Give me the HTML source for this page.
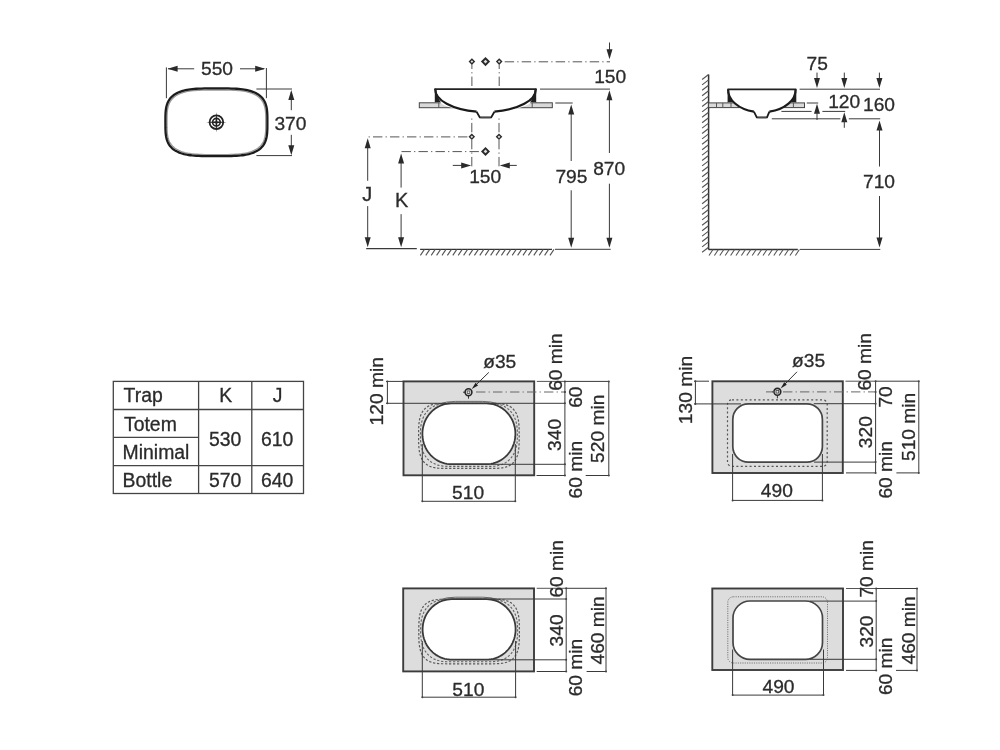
<!DOCTYPE html>
<html><head><meta charset="utf-8"><style>
html,body{margin:0;padding:0;background:#fff;width:1000px;height:750px;overflow:hidden;}
svg{display:block;will-change:transform;}
text{font-family:"Liberation Sans",sans-serif;stroke:#2b2b2b;stroke-width:0.3px;}
</style></head><body>
<svg width="1000" height="750" viewBox="0 0 1000 750" font-family="Liberation Sans, sans-serif">
<rect width="1000" height="750" fill="#fff"/>
<path d="M265.80,122.30 L265.78,127.38 L265.71,129.84 L265.60,131.80 L265.45,133.49 L265.26,134.99 L265.02,136.37 L264.73,137.63 L264.40,138.81 L264.03,139.92 L263.61,140.96 L263.15,141.94 L262.65,142.87 L262.10,143.75 L261.50,144.59 L260.86,145.39 L260.17,146.14 L259.43,146.86 L258.64,147.54 L257.81,148.19 L256.92,148.80 L255.99,149.37 L255.00,149.92 L253.96,150.43 L252.86,150.92 L251.71,151.37 L250.49,151.79 L249.21,152.18 L247.86,152.54 L246.44,152.87 L244.93,153.17 L243.34,153.44 L241.65,153.69 L239.85,153.90 L237.91,154.09 L235.82,154.24 L233.51,154.37 L230.93,154.47 L227.94,154.54 L224.17,154.59 L216.40,154.60 L208.63,154.59 L204.86,154.54 L201.87,154.47 L199.29,154.37 L196.98,154.24 L194.89,154.09 L192.95,153.90 L191.15,153.69 L189.46,153.44 L187.87,153.17 L186.36,152.87 L184.94,152.54 L183.59,152.18 L182.31,151.79 L181.09,151.37 L179.94,150.92 L178.84,150.43 L177.80,149.92 L176.81,149.37 L175.88,148.80 L174.99,148.19 L174.16,147.54 L173.37,146.86 L172.63,146.14 L171.94,145.39 L171.30,144.59 L170.70,143.75 L170.15,142.87 L169.65,141.94 L169.19,140.96 L168.77,139.92 L168.40,138.81 L168.07,137.63 L167.78,136.37 L167.54,134.99 L167.35,133.49 L167.20,131.80 L167.09,129.84 L167.02,127.38 L167.00,122.30 L167.02,117.22 L167.09,114.76 L167.20,112.80 L167.35,111.11 L167.54,109.61 L167.78,108.23 L168.07,106.97 L168.40,105.79 L168.77,104.68 L169.19,103.64 L169.65,102.66 L170.15,101.73 L170.70,100.85 L171.30,100.01 L171.94,99.21 L172.63,98.46 L173.37,97.74 L174.16,97.06 L174.99,96.41 L175.88,95.80 L176.81,95.23 L177.80,94.68 L178.84,94.17 L179.94,93.68 L181.09,93.23 L182.31,92.81 L183.59,92.42 L184.94,92.06 L186.36,91.73 L187.87,91.43 L189.46,91.16 L191.15,90.91 L192.95,90.70 L194.89,90.51 L196.98,90.36 L199.29,90.23 L201.87,90.13 L204.86,90.06 L208.63,90.01 L216.40,90.00 L224.17,90.01 L227.94,90.06 L230.93,90.13 L233.51,90.23 L235.82,90.36 L237.91,90.51 L239.85,90.70 L241.65,90.91 L243.34,91.16 L244.93,91.43 L246.44,91.73 L247.86,92.06 L249.21,92.42 L250.49,92.81 L251.71,93.23 L252.86,93.68 L253.96,94.17 L255.00,94.68 L255.99,95.23 L256.92,95.80 L257.81,96.41 L258.64,97.06 L259.43,97.74 L260.17,98.46 L260.86,99.21 L261.50,100.01 L262.10,100.85 L262.65,101.73 L263.15,102.66 L263.61,103.64 L264.03,104.68 L264.40,105.79 L264.73,106.97 L265.02,108.23 L265.26,109.61 L265.45,111.11 L265.60,112.80 L265.71,114.76 L265.78,117.22 Z" fill="none" stroke="#999" stroke-width="1.3"/>
<path d="M267.40,122.30 L267.38,127.63 L267.31,130.22 L267.20,132.27 L267.04,134.04 L266.84,135.62 L266.59,137.06 L266.30,138.39 L265.96,139.63 L265.57,140.79 L265.14,141.88 L264.67,142.91 L264.15,143.89 L263.58,144.81 L262.96,145.69 L262.30,146.53 L261.58,147.32 L260.82,148.08 L260.01,148.79 L259.15,149.47 L258.24,150.11 L257.27,150.72 L256.25,151.29 L255.18,151.83 L254.04,152.33 L252.85,152.81 L251.59,153.25 L250.27,153.66 L248.88,154.04 L247.41,154.38 L245.86,154.70 L244.21,154.99 L242.47,155.24 L240.61,155.47 L238.61,155.66 L236.44,155.83 L234.07,155.96 L231.41,156.07 L228.31,156.14 L224.42,156.19 L216.40,156.20 L208.38,156.19 L204.49,156.14 L201.39,156.07 L198.73,155.96 L196.36,155.83 L194.19,155.66 L192.19,155.47 L190.33,155.24 L188.59,154.99 L186.94,154.70 L185.39,154.38 L183.92,154.04 L182.53,153.66 L181.21,153.25 L179.95,152.81 L178.76,152.33 L177.62,151.83 L176.55,151.29 L175.53,150.72 L174.56,150.11 L173.65,149.47 L172.79,148.79 L171.98,148.08 L171.22,147.32 L170.50,146.53 L169.84,145.69 L169.22,144.81 L168.65,143.89 L168.13,142.91 L167.66,141.88 L167.23,140.79 L166.84,139.63 L166.50,138.39 L166.21,137.06 L165.96,135.62 L165.76,134.04 L165.60,132.27 L165.49,130.22 L165.42,127.63 L165.40,122.30 L165.42,116.97 L165.49,114.38 L165.60,112.33 L165.76,110.56 L165.96,108.98 L166.21,107.54 L166.50,106.21 L166.84,104.97 L167.23,103.81 L167.66,102.72 L168.13,101.69 L168.65,100.71 L169.22,99.79 L169.84,98.91 L170.50,98.07 L171.22,97.28 L171.98,96.52 L172.79,95.81 L173.65,95.13 L174.56,94.49 L175.53,93.88 L176.55,93.31 L177.62,92.77 L178.76,92.27 L179.95,91.79 L181.21,91.35 L182.53,90.94 L183.92,90.56 L185.39,90.22 L186.94,89.90 L188.59,89.61 L190.33,89.36 L192.19,89.13 L194.19,88.94 L196.36,88.77 L198.73,88.64 L201.39,88.53 L204.49,88.46 L208.38,88.41 L216.40,88.40 L224.42,88.41 L228.31,88.46 L231.41,88.53 L234.07,88.64 L236.44,88.77 L238.61,88.94 L240.61,89.13 L242.47,89.36 L244.21,89.61 L245.86,89.90 L247.41,90.22 L248.88,90.56 L250.27,90.94 L251.59,91.35 L252.85,91.79 L254.04,92.27 L255.18,92.77 L256.25,93.31 L257.27,93.88 L258.24,94.49 L259.15,95.13 L260.01,95.81 L260.82,96.52 L261.58,97.28 L262.30,98.07 L262.96,98.91 L263.58,99.79 L264.15,100.71 L264.67,101.69 L265.14,102.72 L265.57,103.81 L265.96,104.97 L266.30,106.21 L266.59,107.54 L266.84,108.98 L267.04,110.56 L267.20,112.33 L267.31,114.38 L267.38,116.97 Z" fill="none" stroke="#1c1c1c" stroke-width="2.3"/>
<circle cx="216.4" cy="122.2" r="6.8" fill="none" stroke="#222" stroke-width="1.8"/>
<circle cx="216.4" cy="122.2" r="3.8" fill="none" stroke="#222" stroke-width="1.6"/>
<polygon points="206.2,122.2 216.4,121.2 226.6,122.2 216.4,123.2" fill="#222"/>
<polygon points="216.4,112.0 217.4,122.2 216.4,132.4 215.4,122.2" fill="#222"/>
<line x1="166.4" y1="67.4" x2="166.4" y2="98.2" stroke="#3a3a3a" stroke-width="1.0" />
<line x1="266.4" y1="68.0" x2="266.4" y2="98.2" stroke="#3a3a3a" stroke-width="1.0" />
<line x1="168" y1="68.8" x2="194.2" y2="68.8" stroke="#3a3a3a" stroke-width="1.0" />
<polygon points="167.60,68.80 177.60,65.80 177.60,71.80" fill="#2a2a2a"/>
<line x1="240" y1="68.8" x2="264" y2="68.8" stroke="#3a3a3a" stroke-width="1.0" />
<polygon points="265.20,68.80 255.20,65.80 255.20,71.80" fill="#2a2a2a"/>
<text x="201.0" y="74.9" font-size="19.2" text-anchor="start" fill="#2b2b2b">550</text>
<line x1="256.4" y1="89.0" x2="292.0" y2="89.0" stroke="#3a3a3a" stroke-width="1.0" />
<line x1="256.4" y1="155.6" x2="292.0" y2="155.6" stroke="#3a3a3a" stroke-width="1.0" />
<line x1="291.3" y1="92" x2="291.3" y2="110.2" stroke="#3a3a3a" stroke-width="1.0" />
<polygon points="291.30,90.00 288.30,100.00 294.30,100.00" fill="#2a2a2a"/>
<line x1="291.3" y1="134.8" x2="291.3" y2="152" stroke="#3a3a3a" stroke-width="1.0" />
<polygon points="291.30,155.20 288.30,145.20 294.30,145.20" fill="#2a2a2a"/>
<text x="274.4" y="129.6" font-size="19.2" text-anchor="start" fill="#2b2b2b">370</text>
<rect x="419.3" y="102.8" width="133" height="4.9" fill="#d9d9d9" stroke="#444" stroke-width="1"/>
<line x1="438.8" y1="102.8" x2="438.8" y2="107.7" stroke="#555" stroke-width="1.0" />
<line x1="532.2" y1="102.8" x2="532.2" y2="107.7" stroke="#555" stroke-width="1.0" />
<path d="M435.2,89.1 L535.8,89.1 L535.8,102.4 L532,102.4 A50.5,22.7 0 0 1 494.5,111.6 L491.5,117.6 L479.6,117.6 L476.6,111.6 A50.5,22.7 0 0 1 439,102.4 L435.2,102.4 Z" fill="#fff" stroke="none"/>
<path d="M435.2,89.1 A50.4,22.7 0 0 0 476.6,111.7" fill="none" stroke="#1a1a1a" stroke-width="2.2"/>
<path d="M494.4,111.7 A50.4,22.7 0 0 0 535.8,89.1" fill="none" stroke="#1a1a1a" stroke-width="2.2"/>
<path d="M476.6,111.7 L479.8,117.4 L491.2,117.4 L494.4,111.7" fill="none" stroke="#1a1a1a" stroke-width="1.8"/>
<line x1="480.5" y1="117.9" x2="490.5" y2="117.9" stroke="#666" stroke-width="1.0" />
<line x1="434.4" y1="89.1" x2="536.6" y2="89.1" stroke="#222" stroke-width="1.6" />
<path d="M434.8,88.5 L434.8,102.6 L441,102.6 C438.5,99 436.6,94 436.2,89 Z" fill="#1f1f1f"/>
<path d="M536.2,88.5 L536.2,102.6 L530,102.6 C532.5,99 534.4,94 534.8,89 Z" fill="#1f1f1f"/>
<line x1="540.0" y1="89.1" x2="610.0" y2="89.1" stroke="#3a3a3a" stroke-width="1.0" />
<line x1="555.3" y1="103.0" x2="572.7" y2="103.0" stroke="#3a3a3a" stroke-width="1.0" />
<polygon points="471.9,58.300000000000004 475.2,61.6 471.9,64.9 468.59999999999997,61.6" fill="#2a2a2a"/>
<polygon points="471.9,60.214 473.286,61.6 471.9,62.986000000000004 470.51399999999995,61.6" fill="#ddd"/>
<polygon points="485.5,57.0 490.1,61.6 485.5,66.2 480.9,61.6" fill="#2a2a2a"/>
<polygon points="485.5,59.668 487.432,61.6 485.5,63.532000000000004 483.568,61.6" fill="#ddd"/>
<polygon points="499.2,58.300000000000004 502.5,61.6 499.2,64.9 495.9,61.6" fill="#2a2a2a"/>
<polygon points="499.2,60.214 500.586,61.6 499.2,62.986000000000004 497.81399999999996,61.6" fill="#ddd"/>
<line x1="471.9" y1="86.0" x2="471.9" y2="64.5" stroke="#555" stroke-width="1.0" stroke-dasharray="9.4 3.2 1.2 3.2"/>
<line x1="499.2" y1="86.0" x2="499.2" y2="64.5" stroke="#555" stroke-width="1.0" stroke-dasharray="9.4 3.2 1.2 3.2"/>
<line x1="504.7" y1="61.8" x2="610" y2="61.8" stroke="#555" stroke-width="1.0" stroke-dasharray="9.4 3.2 1.2 3.2" stroke-dashoffset="0"/>
<line x1="609.5" y1="42.5" x2="609.5" y2="50" stroke="#3a3a3a" stroke-width="1.0" />
<polygon points="609.50,59.20 606.50,49.20 612.50,49.20" fill="#2a2a2a"/>
<text x="594.2" y="83.0" font-size="19.2" text-anchor="start" fill="#2b2b2b">150</text>
<line x1="609.4" y1="99" x2="609.4" y2="153" stroke="#3a3a3a" stroke-width="1.0" />
<polygon points="609.40,90.30 606.40,100.30 612.40,100.30" fill="#2a2a2a"/>
<line x1="609.4" y1="183.7" x2="609.4" y2="240" stroke="#3a3a3a" stroke-width="1.0" />
<polygon points="609.40,247.80 606.40,237.80 612.40,237.80" fill="#2a2a2a"/>
<text x="593.2" y="175.0" font-size="19.2" text-anchor="start" fill="#2b2b2b">870</text>
<line x1="571.2" y1="113" x2="571.2" y2="161" stroke="#3a3a3a" stroke-width="1.0" />
<polygon points="571.20,104.40 568.20,114.40 574.20,114.40" fill="#2a2a2a"/>
<line x1="571.2" y1="190.3" x2="571.2" y2="240" stroke="#3a3a3a" stroke-width="1.0" />
<polygon points="571.20,247.80 568.20,237.80 574.20,237.80" fill="#2a2a2a"/>
<text x="555.4" y="183.0" font-size="19.2" text-anchor="start" fill="#2b2b2b">795</text>
<line x1="471.8" y1="166.3" x2="471.8" y2="117.8" stroke="#555" stroke-width="1.0" stroke-dasharray="9.4 3.2 1.2 3.2"/>
<line x1="499.0" y1="166.3" x2="499.0" y2="117.8" stroke="#555" stroke-width="1.0" stroke-dasharray="9.4 3.2 1.2 3.2"/>
<polygon points="471.8,133.5 475.1,136.8 471.8,140.10000000000002 468.5,136.8" fill="#2a2a2a"/>
<polygon points="471.8,135.41400000000002 473.18600000000004,136.8 471.8,138.186 470.414,136.8" fill="#ddd"/>
<polygon points="499.0,133.5 502.3,136.8 499.0,140.10000000000002 495.7,136.8" fill="#2a2a2a"/>
<polygon points="499.0,135.41400000000002 500.386,136.8 499.0,138.186 497.614,136.8" fill="#ddd"/>
<polygon points="485.5,146.9 490.0,151.4 485.5,155.9 481.0,151.4" fill="#2a2a2a"/>
<polygon points="485.5,149.51000000000002 487.39,151.4 485.5,153.29 483.61,151.4" fill="#ddd"/>
<line x1="368.6" y1="136.9" x2="468.5" y2="136.9" stroke="#555" stroke-width="1.0" stroke-dasharray="9.4 3.2 1.2 3.2" stroke-dashoffset="12.6"/>
<line x1="401.5" y1="151.6" x2="481.5" y2="151.6" stroke="#555" stroke-width="1.0" stroke-dasharray="9.4 3.2 1.2 3.2" stroke-dashoffset="0"/>
<line x1="452.8" y1="165.4" x2="462" y2="165.4" stroke="#3a3a3a" stroke-width="1.0" />
<polygon points="471.20,165.40 461.20,162.40 461.20,168.40" fill="#2a2a2a"/>
<line x1="509" y1="165.4" x2="516.8" y2="165.4" stroke="#3a3a3a" stroke-width="1.0" />
<polygon points="499.80,165.40 509.80,162.40 509.80,168.40" fill="#2a2a2a"/>
<text x="469.2" y="183.0" font-size="19.2" text-anchor="start" fill="#2b2b2b">150</text>
<line x1="367.7" y1="147" x2="367.7" y2="180.8" stroke="#3a3a3a" stroke-width="1.0" />
<polygon points="367.70,138.20 364.70,148.20 370.70,148.20" fill="#2a2a2a"/>
<line x1="367.7" y1="206.1" x2="367.7" y2="240" stroke="#3a3a3a" stroke-width="1.0" />
<polygon points="367.70,247.20 364.70,237.20 370.70,237.20" fill="#2a2a2a"/>
<text x="362.3" y="200.6" font-size="19.9" text-anchor="start" fill="#2b2b2b">J</text>
<line x1="401.1" y1="162" x2="401.1" y2="187.6" stroke="#3a3a3a" stroke-width="1.0" />
<polygon points="401.10,153.40 398.10,163.40 404.10,163.40" fill="#2a2a2a"/>
<line x1="401.1" y1="214.1" x2="401.1" y2="240" stroke="#3a3a3a" stroke-width="1.0" />
<polygon points="401.10,247.20 398.10,237.20 404.10,237.20" fill="#2a2a2a"/>
<text x="394.9" y="207.4" font-size="19.9" text-anchor="start" fill="#2b2b2b">K</text>
<line x1="366.2" y1="248.6" x2="416.8" y2="248.6" stroke="#3a3a3a" stroke-width="1.2" />
<line x1="420.1" y1="249.4" x2="552.0" y2="249.4" stroke="#333" stroke-width="1.4" />
<path d="M420.40,255.4 L424.40,249.4 M425.80,255.4 L429.80,249.4 M431.20,255.4 L435.20,249.4 M436.60,255.4 L440.60,249.4 M442.00,255.4 L446.00,249.4 M447.40,255.4 L451.40,249.4 M452.80,255.4 L456.80,249.4 M458.20,255.4 L462.20,249.4 M463.60,255.4 L467.60,249.4 M469.00,255.4 L473.00,249.4 M474.40,255.4 L478.40,249.4 M479.80,255.4 L483.80,249.4 M485.20,255.4 L489.20,249.4 M490.60,255.4 L494.60,249.4 M496.00,255.4 L500.00,249.4 M501.40,255.4 L505.40,249.4 M506.80,255.4 L510.80,249.4 M512.20,255.4 L516.20,249.4 M517.60,255.4 L521.60,249.4 M523.00,255.4 L527.00,249.4 M528.40,255.4 L532.40,249.4 M533.80,255.4 L537.80,249.4 M539.20,255.4 L543.20,249.4 M544.60,255.4 L548.60,249.4 M550.00,255.4 L554.00,249.4" stroke="#555" stroke-width="1.1" fill="none"/>
<line x1="555.0" y1="249.3" x2="610.7" y2="249.3" stroke="#3a3a3a" stroke-width="1.0" />
<line x1="708.6" y1="74.5" x2="708.6" y2="249.6" stroke="#333" stroke-width="1.5" />
<path d="M702.10,79.50 L708.60,74.50 M702.10,84.90 L708.60,79.90 M702.10,90.30 L708.60,85.30 M702.10,95.70 L708.60,90.70 M702.10,101.10 L708.60,96.10 M702.10,106.50 L708.60,101.50 M702.10,111.90 L708.60,106.90 M702.10,117.30 L708.60,112.30 M702.10,122.70 L708.60,117.70 M702.10,128.10 L708.60,123.10 M702.10,133.50 L708.60,128.50 M702.10,138.90 L708.60,133.90 M702.10,144.30 L708.60,139.30 M702.10,149.70 L708.60,144.70 M702.10,155.10 L708.60,150.10 M702.10,160.50 L708.60,155.50 M702.10,165.90 L708.60,160.90 M702.10,171.30 L708.60,166.30 M702.10,176.70 L708.60,171.70 M702.10,182.10 L708.60,177.10 M702.10,187.50 L708.60,182.50 M702.10,192.90 L708.60,187.90 M702.10,198.30 L708.60,193.30 M702.10,203.70 L708.60,198.70 M702.10,209.10 L708.60,204.10 M702.10,214.50 L708.60,209.50 M702.10,219.90 L708.60,214.90 M702.10,225.30 L708.60,220.30 M702.10,230.70 L708.60,225.70 M702.10,236.10 L708.60,231.10 M702.10,241.50 L708.60,236.50 M702.10,246.90 L708.60,241.90 M702.10,252.30 L708.60,247.30" stroke="#555" stroke-width="1.1" fill="none"/>
<line x1="708.6" y1="249.5" x2="797.8" y2="249.5" stroke="#333" stroke-width="1.4" />
<path d="M709.00,255.5 L713.00,249.5 M714.40,255.5 L718.40,249.5 M719.80,255.5 L723.80,249.5 M725.20,255.5 L729.20,249.5 M730.60,255.5 L734.60,249.5 M736.00,255.5 L740.00,249.5 M741.40,255.5 L745.40,249.5 M746.80,255.5 L750.80,249.5 M752.20,255.5 L756.20,249.5 M757.60,255.5 L761.60,249.5 M763.00,255.5 L767.00,249.5 M768.40,255.5 L772.40,249.5 M773.80,255.5 L777.80,249.5 M779.20,255.5 L783.20,249.5 M784.60,255.5 L788.60,249.5 M790.00,255.5 L794.00,249.5 M795.40,255.5 L799.40,249.5" stroke="#555" stroke-width="1.1" fill="none"/>
<rect x="708.6" y="102.9" width="95.9" height="4.7" fill="#d9d9d9" stroke="#444" stroke-width="1"/>
<line x1="716.5" y1="102.9" x2="716.5" y2="107.6" stroke="#555" stroke-width="1.0" />
<line x1="722.8" y1="102.9" x2="722.8" y2="107.6" stroke="#555" stroke-width="1.0" />
<line x1="731" y1="102.9" x2="731" y2="107.6" stroke="#555" stroke-width="1.0" />
<line x1="793.4" y1="102.9" x2="793.4" y2="107.6" stroke="#555" stroke-width="1.0" />
<path d="M728.1,89.4 L795.8,89.4 L795.8,102.4 L791,102.4 A34,22.4 0 0 1 769.4,111.6 L767,117.6 L756.8,117.6 L753.9,111.6 A34,22.4 0 0 1 732.5,102.4 L728.1,102.4 Z" fill="#fff"/>
<path d="M728.1,89.4 A34,22.4 0 0 0 753.9,111.7" fill="none" stroke="#1a1a1a" stroke-width="2.2"/>
<path d="M769.4,111.7 A34,22.4 0 0 0 795.6,89.4" fill="none" stroke="#1a1a1a" stroke-width="2.2"/>
<path d="M753.9,111.7 L756.8,117.4 L767,117.4 L769.4,111.7" fill="none" stroke="#1a1a1a" stroke-width="1.8"/>
<line x1="757.5" y1="117.9" x2="766.5" y2="117.9" stroke="#666" stroke-width="1.0" />
<line x1="727.6" y1="89.4" x2="796.2" y2="89.4" stroke="#222" stroke-width="1.6" />
<path d="M727.6,88.8 L727.6,102.6 L733,102.6 C730.5,99 729.2,94 729,89.4 Z" fill="#1f1f1f"/>
<path d="M796.3,88.8 L796.3,102.6 L790.9,102.6 C793.4,99 794.7,94 794.9,89.4 Z" fill="#1f1f1f"/>
<line x1="799.6" y1="89.2" x2="880" y2="89.2" stroke="#3a3a3a" stroke-width="1.0" />
<line x1="817.0" y1="72.6" x2="817.0" y2="80" stroke="#3a3a3a" stroke-width="1.0" />
<polygon points="817.00,88.00 814.00,78.00 820.00,78.00" fill="#2a2a2a"/>
<line x1="844.3" y1="72.6" x2="844.3" y2="80" stroke="#3a3a3a" stroke-width="1.0" />
<polygon points="844.30,88.00 841.30,78.00 847.30,78.00" fill="#2a2a2a"/>
<line x1="879.4" y1="72.6" x2="879.4" y2="80" stroke="#3a3a3a" stroke-width="1.0" />
<polygon points="879.40,88.00 876.40,78.00 882.40,78.00" fill="#2a2a2a"/>
<text x="806.6" y="69.6" font-size="19.2" text-anchor="start" fill="#2b2b2b">75</text>
<line x1="806.8" y1="103.0" x2="818.2" y2="103.0" stroke="#3a3a3a" stroke-width="1.0" />
<polygon points="817.00,103.80 814.00,113.80 820.00,113.80" fill="#2a2a2a"/>
<line x1="817.0" y1="112" x2="817.0" y2="120" stroke="#3a3a3a" stroke-width="1.0" />
<line x1="781.4" y1="111.4" x2="811.6" y2="111.4" stroke="#3a3a3a" stroke-width="1.0" />
<line x1="822.4" y1="111.4" x2="845.2" y2="111.4" stroke="#3a3a3a" stroke-width="1.0" />
<polygon points="844.30,112.20 841.30,122.20 847.30,122.20" fill="#2a2a2a"/>
<line x1="844.3" y1="120" x2="844.3" y2="127.8" stroke="#3a3a3a" stroke-width="1.0" />
<line x1="771.8" y1="118.8" x2="840.4" y2="118.8" stroke="#3a3a3a" stroke-width="1.0" />
<line x1="848.8" y1="118.8" x2="880.2" y2="118.8" stroke="#3a3a3a" stroke-width="1.0" />
<polygon points="879.50,120.50 876.50,130.50 882.50,130.50" fill="#2a2a2a"/>
<line x1="879.5" y1="128" x2="879.5" y2="166.5" stroke="#3a3a3a" stroke-width="1.0" />
<line x1="879.5" y1="196" x2="879.5" y2="240" stroke="#3a3a3a" stroke-width="1.0" />
<polygon points="879.50,247.60 876.50,237.60 882.50,237.60" fill="#2a2a2a"/>
<line x1="800" y1="249.4" x2="880.3" y2="249.4" stroke="#3a3a3a" stroke-width="1.0" />
<text x="828.2" y="108.0" font-size="19.2" text-anchor="start" fill="#2b2b2b">120</text>
<text x="863.0" y="111.0" font-size="19.2" text-anchor="start" fill="#2b2b2b">160</text>
<text x="863.0" y="188.2" font-size="19.2" text-anchor="start" fill="#2b2b2b">710</text>
<g stroke="#444" stroke-width="1.3" fill="none">
<rect x="113.3" y="381.4" width="190.2" height="112.1"/>
<line x1="198.6" y1="381.4" x2="198.6" y2="493.5" stroke="#444" stroke-width="1.3" />
<line x1="251.8" y1="381.4" x2="251.8" y2="493.5" stroke="#444" stroke-width="1.3" />
<line x1="113.3" y1="409.5" x2="303.5" y2="409.5" stroke="#444" stroke-width="1.3" />
<line x1="113.3" y1="437.4" x2="198.6" y2="437.4" stroke="#444" stroke-width="1.3" />
<line x1="113.3" y1="465.6" x2="303.5" y2="465.6" stroke="#444" stroke-width="1.3" />
</g>
<text x="123.6" y="402.1" font-size="19.4" text-anchor="start" fill="#2b2b2b">Trap</text>
<text x="225.8" y="402.1" font-size="19.4" text-anchor="middle" fill="#2b2b2b">K</text>
<text x="277.5" y="402.1" font-size="19.4" text-anchor="middle" fill="#2b2b2b">J</text>
<text x="124.0" y="431.3" font-size="19.4" text-anchor="start" fill="#2b2b2b">Totem</text>
<text x="122.6" y="459.0" font-size="19.4" text-anchor="start" fill="#2b2b2b">Minimal</text>
<text x="225.2" y="445.8" font-size="19.4" text-anchor="middle" fill="#2b2b2b">530</text>
<text x="277.2" y="445.8" font-size="19.4" text-anchor="middle" fill="#2b2b2b">610</text>
<text x="122.6" y="486.5" font-size="19.4" text-anchor="start" fill="#2b2b2b">Bottle</text>
<text x="225.2" y="486.5" font-size="19.4" text-anchor="middle" fill="#2b2b2b">570</text>
<text x="277.2" y="486.5" font-size="19.4" text-anchor="middle" fill="#2b2b2b">640</text>
<rect x="403.5" y="381.4" width="130.70000000000005" height="93.90000000000003" fill="#dddddd" stroke="#3c3c3c" stroke-width="1.9"/>
<path d="M490.20,403.40 L496.40,403.46 L499.62,403.64 L502.21,403.95 L504.43,404.37 L506.40,404.92 L508.17,405.60 L509.77,406.39 L511.22,407.32 L512.52,408.37 L513.71,409.56 L514.76,410.88 L515.70,412.35 L516.53,413.97 L517.24,415.76 L517.84,417.74 L518.33,419.95 L518.71,422.44 L518.98,425.34 L519.15,428.95 L519.20,435.90 L519.15,442.85 L518.98,446.46 L518.71,449.36 L518.33,451.85 L517.84,454.06 L517.24,456.04 L516.53,457.83 L515.70,459.45 L514.76,460.92 L513.71,462.24 L512.52,463.43 L511.22,464.48 L509.77,465.41 L508.17,466.20 L506.40,466.88 L504.43,467.43 L502.21,467.85 L499.62,468.16 L496.40,468.34 L490.20,468.40 L447.60,468.40 L441.40,468.34 L438.18,468.16 L435.59,467.85 L433.37,467.43 L431.40,466.88 L429.63,466.20 L428.03,465.41 L426.58,464.48 L425.28,463.43 L424.09,462.24 L423.04,460.92 L422.10,459.45 L421.27,457.83 L420.56,456.04 L419.96,454.06 L419.47,451.85 L419.09,449.36 L418.82,446.46 L418.65,442.85 L418.60,435.90 L418.65,428.95 L418.82,425.34 L419.09,422.44 L419.47,419.95 L419.96,417.74 L420.56,415.76 L421.27,413.97 L422.10,412.35 L423.04,410.88 L424.09,409.56 L425.28,408.37 L426.58,407.32 L428.03,406.39 L429.63,405.60 L431.40,404.92 L433.37,404.37 L435.59,403.95 L438.18,403.64 L441.40,403.46 L447.60,403.40 Z" fill="none" stroke="#5a5a5a" stroke-width="1.2" stroke-dasharray="2.3 1.7"/>
<path d="M488.40,403.40 L492.19,403.48 L494.97,403.71 L497.46,404.10 L499.73,404.64 L501.85,405.33 L503.82,406.18 L505.65,407.17 L507.36,408.31 L508.93,409.60 L510.38,411.03 L511.69,412.60 L512.88,414.31 L513.93,416.16 L514.84,418.15 L515.62,420.29 L516.26,422.59 L516.76,425.06 L517.11,427.76 L517.33,430.79 L517.40,434.90 L517.33,439.01 L517.11,442.04 L516.76,444.74 L516.26,447.21 L515.62,449.51 L514.84,451.65 L513.93,453.64 L512.88,455.49 L511.69,457.20 L510.38,458.77 L508.93,460.20 L507.36,461.49 L505.65,462.63 L503.82,463.62 L501.85,464.47 L499.73,465.16 L497.46,465.70 L494.97,466.09 L492.19,466.32 L488.40,466.40 L449.40,466.40 L445.61,466.32 L442.83,466.09 L440.34,465.70 L438.07,465.16 L435.95,464.47 L433.98,463.62 L432.15,462.63 L430.44,461.49 L428.87,460.20 L427.42,458.77 L426.11,457.20 L424.92,455.49 L423.87,453.64 L422.96,451.65 L422.18,449.51 L421.54,447.21 L421.04,444.74 L420.69,442.04 L420.47,439.01 L420.40,434.90 L420.47,430.79 L420.69,427.76 L421.04,425.06 L421.54,422.59 L422.18,420.29 L422.96,418.15 L423.87,416.16 L424.92,414.31 L426.11,412.60 L427.42,411.03 L428.87,409.60 L430.44,408.31 L432.15,407.17 L433.98,406.18 L435.95,405.33 L438.07,404.64 L440.34,404.10 L442.83,403.71 L445.61,403.48 L449.40,403.40 Z" fill="none" stroke="#606060" stroke-width="1.1" stroke-dasharray="2.3 1.7"/>
<path d="M439.4,404.0 Q446.4,401.4 455.4,401.4 L482.4,401.4 Q491.4,401.4 498.4,404.0" fill="none" stroke="#6a6a6a" stroke-width="1.0"/>
<path d="M486.40,403.40 L488.68,403.49 L490.94,403.77 L493.17,404.24 L495.36,404.89 L497.50,405.71 L499.57,406.71 L501.55,407.88 L503.45,409.21 L505.23,410.68 L506.91,412.30 L508.45,414.06 L509.86,415.93 L511.13,417.92 L512.24,420.00 L513.19,422.17 L513.98,424.41 L514.60,426.70 L515.04,429.04 L515.31,431.41 L515.40,433.80 L515.31,436.19 L515.04,438.56 L514.60,440.90 L513.98,443.19 L513.19,445.43 L512.24,447.60 L511.13,449.68 L509.86,451.67 L508.45,453.54 L506.91,455.30 L505.23,456.92 L503.45,458.39 L501.55,459.72 L499.57,460.89 L497.50,461.89 L495.36,462.71 L493.17,463.36 L490.94,463.83 L488.68,464.11 L486.40,464.20 L451.40,464.20 L449.12,464.11 L446.86,463.83 L444.63,463.36 L442.44,462.71 L440.30,461.89 L438.23,460.89 L436.25,459.72 L434.35,458.39 L432.57,456.92 L430.89,455.30 L429.35,453.54 L427.94,451.67 L426.67,449.68 L425.56,447.60 L424.61,445.43 L423.82,443.19 L423.20,440.90 L422.76,438.56 L422.49,436.19 L422.40,433.80 L422.49,431.41 L422.76,429.04 L423.20,426.70 L423.82,424.41 L424.61,422.17 L425.56,420.00 L426.67,417.92 L427.94,415.93 L429.35,414.06 L430.89,412.30 L432.57,410.68 L434.35,409.21 L436.25,407.88 L438.23,406.71 L440.30,405.71 L442.44,404.89 L444.63,404.24 L446.86,403.77 L449.12,403.49 L451.40,403.40 Z" fill="#fff" stroke="#3a3a3a" stroke-width="1.8"/>
<line x1="386" y1="381.4" x2="403" y2="381.4" stroke="#3a3a3a" stroke-width="1.0" />
<line x1="386" y1="403.3" x2="446" y2="403.3" stroke="#3a3a3a" stroke-width="1.0" />
<line x1="387.4" y1="381.4" x2="387.4" y2="403.3" stroke="#3a3a3a" stroke-width="1.0" />
<text transform="translate(382.6,425.4) rotate(-90)" font-size="19.2" text-anchor="start" fill="#2b2b2b">120 min</text>
<line x1="463.0" y1="392.2" x2="468.5" y2="392.2" stroke="#333" stroke-width="1.0" />
<line x1="468.5" y1="392.2" x2="468.5" y2="398.7" stroke="#333" stroke-width="1.0" />
<circle cx="468.5" cy="392.2" r="3.4" fill="#e6e6e6" stroke="#262626" stroke-width="1.6"/>
<rect x="467.2" y="390.9" width="2.6" height="2.6" fill="none" stroke="#444" stroke-width="0.8"/>
<line x1="488.8" y1="372.4" x2="475.37233210439473" y2="385.4969371592603" stroke="#333" stroke-width="1.0" />
<polygon points="471.79,388.99 475.55,382.81 478.06,385.39" fill="#222"/>
<text x="483.2" y="368.2" font-size="19.2" text-anchor="start" fill="#2b2b2b">ø35</text>
<line x1="476" y1="392.0" x2="566" y2="392.0" stroke="#666" stroke-width="1.0" stroke-dasharray="9.4 3.2 1.2 3.2" stroke-dashoffset="0"/>
<line x1="536.8" y1="381.4" x2="546" y2="381.4" stroke="#555" stroke-width="1.0" />
<line x1="546" y1="381.4" x2="565" y2="381.4" stroke="#555" stroke-width="1.0" />
<line x1="564.8" y1="381.4" x2="608.8" y2="381.4" stroke="#3a3a3a" stroke-width="1.0" />
<line x1="491" y1="403.3" x2="565" y2="403.3" stroke="#3a3a3a" stroke-width="1.0" />
<line x1="491" y1="464.3" x2="565.5" y2="464.3" stroke="#3a3a3a" stroke-width="1.0" />
<line x1="536.5" y1="475.5" x2="565.5" y2="475.5" stroke="#3a3a3a" stroke-width="1.0" />
<line x1="585.7" y1="475.5" x2="609" y2="475.5" stroke="#3a3a3a" stroke-width="1.0" />
<line x1="564.9" y1="381.4" x2="564.9" y2="475.5" stroke="#3a3a3a" stroke-width="1.0" />
<line x1="608.8" y1="381.4" x2="608.8" y2="475.5" stroke="#3a3a3a" stroke-width="1.0" />
<line x1="422.3" y1="444" x2="422.3" y2="501.4" stroke="#3a3a3a" stroke-width="1.0" />
<line x1="515.3" y1="444" x2="515.3" y2="501.4" stroke="#3a3a3a" stroke-width="1.0" />
<line x1="422.3" y1="501.3" x2="515.3" y2="501.3" stroke="#3a3a3a" stroke-width="1.0" />
<text x="452.1" y="499.0" font-size="19.2" text-anchor="start" fill="#2b2b2b">510</text>
<text transform="translate(561.8,390.79999999999995) rotate(-90)" font-size="19.2" text-anchor="start" fill="#2b2b2b">60 min</text>
<text transform="translate(582.2,407.79999999999995) rotate(-90)" font-size="19.2" text-anchor="start" fill="#2b2b2b">60</text>
<text transform="translate(560.6,450.9) rotate(-90)" font-size="19.2" text-anchor="start" fill="#2b2b2b">340</text>
<text transform="translate(581.6,498.4) rotate(-90)" font-size="19.2" text-anchor="start" fill="#2b2b2b">60 min</text>
<text transform="translate(604.4,462.9) rotate(-90)" font-size="19.2" text-anchor="start" fill="#2b2b2b">520 min</text>
<rect x="712.4" y="381.3" width="130.39999999999998" height="91.69999999999999" fill="#dddddd" stroke="#3c3c3c" stroke-width="1.9"/>
<path d="M732.0,399.8 L822.7,399.8 A4.5,4.5 0 0 1 827.2,404.3 L827.2,461.9 A4.5,4.5 0 0 1 822.7,466.4 L732.0,466.4 A4.5,4.5 0 0 1 727.5,461.9 L727.5,404.3 A4.5,4.5 0 0 1 732.0,399.8 Z" fill="none" stroke="#555" stroke-width="1.2" stroke-dasharray="2.0 2.4"/>
<path d="M748.3,403.9 L806.9,403.9 A15.5,15.5 0 0 1 822.4,419.4 L822.4,446.6 A15.5,15.5 0 0 1 806.9,462.1 L748.3,462.1 A15.5,15.5 0 0 1 732.8,446.6 L732.8,419.4 A15.5,15.5 0 0 1 748.3,403.9 Z" fill="#fff" stroke="#454545" stroke-width="1.7"/>
<line x1="694" y1="381.2" x2="709" y2="381.2" stroke="#3a3a3a" stroke-width="1.0" />
<line x1="694" y1="403.9" x2="741" y2="403.9" stroke="#3a3a3a" stroke-width="1.0" />
<line x1="695.4" y1="381.2" x2="695.4" y2="403.9" stroke="#3a3a3a" stroke-width="1.0" />
<text transform="translate(691.6,424.2) rotate(-90)" font-size="19.2" text-anchor="start" fill="#2b2b2b">130 min</text>
<line x1="771.9" y1="391.8" x2="777.4" y2="391.8" stroke="#333" stroke-width="1.0" />
<line x1="777.4" y1="391.8" x2="777.4" y2="398.3" stroke="#333" stroke-width="1.0" />
<circle cx="777.4" cy="391.8" r="3.4" fill="#e6e6e6" stroke="#262626" stroke-width="1.6"/>
<rect x="776.1" y="390.5" width="2.6" height="2.6" fill="none" stroke="#444" stroke-width="0.8"/>
<line x1="797" y1="371.8" x2="784.1193143906528" y2="384.94355674423196" stroke="#333" stroke-width="1.0" />
<polygon points="780.62,388.51 784.23,382.26 786.80,384.78" fill="#222"/>
<text x="792.0" y="366.6" font-size="19.2" text-anchor="start" fill="#2b2b2b">ø35</text>
<line x1="766" y1="391.9" x2="875" y2="391.9" stroke="#666" stroke-width="1.0" stroke-dasharray="9.4 3.2 1.2 3.2" stroke-dashoffset="0"/>
<line x1="845.5" y1="381.2" x2="875.5" y2="381.2" stroke="#555" stroke-width="1.0" />
<line x1="875.5" y1="381.2" x2="918.8" y2="381.2" stroke="#3a3a3a" stroke-width="1.0" />
<line x1="813.8" y1="403.7" x2="875.6" y2="403.7" stroke="#3a3a3a" stroke-width="1.0" />
<line x1="814" y1="462.1" x2="875.6" y2="462.1" stroke="#3a3a3a" stroke-width="1.0" />
<line x1="846" y1="472.9" x2="875.6" y2="472.9" stroke="#3a3a3a" stroke-width="1.0" />
<line x1="896.4" y1="472.9" x2="918.8" y2="472.9" stroke="#3a3a3a" stroke-width="1.0" />
<line x1="875.6" y1="381.2" x2="875.6" y2="472.9" stroke="#3a3a3a" stroke-width="1.0" />
<line x1="918.8" y1="381.2" x2="918.8" y2="472.9" stroke="#3a3a3a" stroke-width="1.0" />
<line x1="732.6" y1="454" x2="732.6" y2="500.4" stroke="#3a3a3a" stroke-width="1.0" />
<line x1="822.4" y1="454" x2="822.4" y2="500.4" stroke="#3a3a3a" stroke-width="1.0" />
<line x1="732.6" y1="500.4" x2="822.4" y2="500.4" stroke="#3a3a3a" stroke-width="1.0" />
<text x="760.8" y="497.0" font-size="19.2" text-anchor="start" fill="#2b2b2b">490</text>
<text transform="translate(871.4,390.59999999999997) rotate(-90)" font-size="19.2" text-anchor="start" fill="#2b2b2b">60 min</text>
<text transform="translate(892.4,407.59999999999997) rotate(-90)" font-size="19.2" text-anchor="start" fill="#2b2b2b">70</text>
<text transform="translate(871.6,448.2) rotate(-90)" font-size="19.2" text-anchor="start" fill="#2b2b2b">320</text>
<text transform="translate(892.4,498.59999999999997) rotate(-90)" font-size="19.2" text-anchor="start" fill="#2b2b2b">60 min</text>
<text transform="translate(914.8,461.0) rotate(-90)" font-size="19.2" text-anchor="start" fill="#2b2b2b">510 min</text>
<rect x="403.2" y="588.4" width="130.8" height="83.0" fill="#dddddd" stroke="#3c3c3c" stroke-width="1.9"/>
<path d="M490.40,599.20 L496.60,599.26 L499.82,599.44 L502.41,599.74 L504.63,600.17 L506.60,600.71 L508.37,601.38 L509.97,602.17 L511.42,603.09 L512.72,604.14 L513.91,605.32 L514.96,606.63 L515.90,608.09 L516.73,609.71 L517.44,611.49 L518.04,613.45 L518.53,615.65 L518.91,618.13 L519.18,621.01 L519.35,624.59 L519.40,631.50 L519.35,638.41 L519.18,641.99 L518.91,644.87 L518.53,647.35 L518.04,649.55 L517.44,651.51 L516.73,653.29 L515.90,654.91 L514.96,656.37 L513.91,657.68 L512.72,658.86 L511.42,659.91 L509.97,660.83 L508.37,661.62 L506.60,662.29 L504.63,662.83 L502.41,663.26 L499.82,663.56 L496.60,663.74 L490.40,663.80 L447.80,663.80 L441.60,663.74 L438.38,663.56 L435.79,663.26 L433.57,662.83 L431.60,662.29 L429.83,661.62 L428.23,660.83 L426.78,659.91 L425.48,658.86 L424.29,657.68 L423.24,656.37 L422.30,654.91 L421.47,653.29 L420.76,651.51 L420.16,649.55 L419.67,647.35 L419.29,644.87 L419.02,641.99 L418.85,638.41 L418.80,631.50 L418.85,624.59 L419.02,621.01 L419.29,618.13 L419.67,615.65 L420.16,613.45 L420.76,611.49 L421.47,609.71 L422.30,608.09 L423.24,606.63 L424.29,605.32 L425.48,604.14 L426.78,603.09 L428.23,602.17 L429.83,601.38 L431.60,600.71 L433.57,600.17 L435.79,599.74 L438.38,599.44 L441.60,599.26 L447.80,599.20 Z" fill="none" stroke="#5a5a5a" stroke-width="1.2" stroke-dasharray="2.3 1.7"/>
<path d="M488.60,599.20 L492.39,599.28 L495.17,599.51 L497.66,599.89 L499.93,600.43 L502.05,601.12 L504.02,601.96 L505.85,602.95 L507.56,604.08 L509.13,605.36 L510.58,606.78 L511.89,608.34 L513.08,610.04 L514.13,611.88 L515.04,613.86 L515.82,615.99 L516.46,618.27 L516.96,620.73 L517.31,623.40 L517.53,626.41 L517.60,630.50 L517.53,634.59 L517.31,637.60 L516.96,640.27 L516.46,642.73 L515.82,645.01 L515.04,647.14 L514.13,649.12 L513.08,650.96 L511.89,652.66 L510.58,654.22 L509.13,655.64 L507.56,656.92 L505.85,658.05 L504.02,659.04 L502.05,659.88 L499.93,660.57 L497.66,661.11 L495.17,661.49 L492.39,661.72 L488.60,661.80 L449.60,661.80 L445.81,661.72 L443.03,661.49 L440.54,661.11 L438.27,660.57 L436.15,659.88 L434.18,659.04 L432.35,658.05 L430.64,656.92 L429.07,655.64 L427.62,654.22 L426.31,652.66 L425.12,650.96 L424.07,649.12 L423.16,647.14 L422.38,645.01 L421.74,642.73 L421.24,640.27 L420.89,637.60 L420.67,634.59 L420.60,630.50 L420.67,626.41 L420.89,623.40 L421.24,620.73 L421.74,618.27 L422.38,615.99 L423.16,613.86 L424.07,611.88 L425.12,610.04 L426.31,608.34 L427.62,606.78 L429.07,605.36 L430.64,604.08 L432.35,602.95 L434.18,601.96 L436.15,601.12 L438.27,600.43 L440.54,599.89 L443.03,599.51 L445.81,599.28 L449.60,599.20 Z" fill="none" stroke="#606060" stroke-width="1.1" stroke-dasharray="2.3 1.7"/>
<path d="M439.6,599.8000000000001 Q446.6,597.2 455.6,597.2 L482.6,597.2 Q491.6,597.2 498.6,599.8000000000001" fill="none" stroke="#6a6a6a" stroke-width="1.0"/>
<path d="M486.60,599.20 L488.88,599.29 L491.14,599.57 L493.37,600.03 L495.56,600.68 L497.70,601.50 L499.77,602.49 L501.75,603.65 L503.65,604.97 L505.43,606.44 L507.11,608.05 L508.65,609.79 L510.06,611.65 L511.33,613.62 L512.44,615.69 L513.39,617.84 L514.18,620.07 L514.80,622.35 L515.24,624.68 L515.51,627.03 L515.60,629.40 L515.51,631.77 L515.24,634.12 L514.80,636.45 L514.18,638.73 L513.39,640.96 L512.44,643.11 L511.33,645.18 L510.06,647.15 L508.65,649.01 L507.11,650.75 L505.43,652.36 L503.65,653.83 L501.75,655.15 L499.77,656.31 L497.70,657.30 L495.56,658.12 L493.37,658.77 L491.14,659.23 L488.88,659.51 L486.60,659.60 L451.60,659.60 L449.32,659.51 L447.06,659.23 L444.83,658.77 L442.64,658.12 L440.50,657.30 L438.43,656.31 L436.45,655.15 L434.55,653.83 L432.77,652.36 L431.09,650.75 L429.55,649.01 L428.14,647.15 L426.87,645.18 L425.76,643.11 L424.81,640.96 L424.02,638.73 L423.40,636.45 L422.96,634.12 L422.69,631.77 L422.60,629.40 L422.69,627.03 L422.96,624.68 L423.40,622.35 L424.02,620.07 L424.81,617.84 L425.76,615.69 L426.87,613.62 L428.14,611.65 L429.55,609.79 L431.09,608.05 L432.77,606.44 L434.55,604.97 L436.45,603.65 L438.43,602.49 L440.50,601.50 L442.64,600.68 L444.83,600.03 L447.06,599.57 L449.32,599.29 L451.60,599.20 Z" fill="#fff" stroke="#3a3a3a" stroke-width="1.8"/>
<line x1="536.7" y1="588.3" x2="566.2" y2="588.3" stroke="#555" stroke-width="1.0" />
<line x1="566.2" y1="588.3" x2="606" y2="588.3" stroke="#3a3a3a" stroke-width="1.0" />
<line x1="490" y1="599.0" x2="566.2" y2="599.0" stroke="#3a3a3a" stroke-width="1.0" />
<line x1="490" y1="659.8" x2="566.2" y2="659.8" stroke="#3a3a3a" stroke-width="1.0" />
<line x1="536.7" y1="671.5" x2="566.2" y2="671.5" stroke="#3a3a3a" stroke-width="1.0" />
<line x1="586.6" y1="671.5" x2="606" y2="671.5" stroke="#3a3a3a" stroke-width="1.0" />
<line x1="566.2" y1="588.3" x2="566.2" y2="671.5" stroke="#3a3a3a" stroke-width="1.0" />
<line x1="606" y1="588.3" x2="606" y2="671.5" stroke="#3a3a3a" stroke-width="1.0" />
<line x1="422.3" y1="641" x2="422.3" y2="697.3" stroke="#3a3a3a" stroke-width="1.0" />
<line x1="515.6" y1="641" x2="515.6" y2="697.3" stroke="#3a3a3a" stroke-width="1.0" />
<line x1="422.3" y1="697.2" x2="515.6" y2="697.2" stroke="#3a3a3a" stroke-width="1.0" />
<text x="452.3" y="695.5" font-size="19.2" text-anchor="start" fill="#2b2b2b">510</text>
<text transform="translate(562.8,597.6) rotate(-90)" font-size="19.2" text-anchor="start" fill="#2b2b2b">60 min</text>
<text transform="translate(562.6,646.4) rotate(-90)" font-size="19.2" text-anchor="start" fill="#2b2b2b">340</text>
<text transform="translate(582.0,696.3) rotate(-90)" font-size="19.2" text-anchor="start" fill="#2b2b2b">60 min</text>
<text transform="translate(603.6,664.5) rotate(-90)" font-size="19.2" text-anchor="start" fill="#2b2b2b">460 min</text>
<rect x="712.3" y="588.5" width="130.70000000000005" height="81.5" fill="#dddddd" stroke="#3c3c3c" stroke-width="1.9"/>
<path d="M733.3,596.8 L822.0,596.8 A5.5,5.5 0 0 1 827.5,602.3 L827.5,657.5 A5.5,5.5 0 0 1 822.0,663.0 L733.3,663.0 A5.5,5.5 0 0 1 727.8,657.5 L727.8,602.3 A5.5,5.5 0 0 1 733.3,596.8 Z" fill="none" stroke="#707070" stroke-width="1.0" stroke-dasharray="1.1 1.2"/>
<path d="M750.0,601.0 L805.5,601.0 A17,17 0 0 1 822.5,618.0 L822.5,642.4 A17,17 0 0 1 805.5,659.4 L750.0,659.4 A17,17 0 0 1 733.0,642.4 L733.0,618.0 A17,17 0 0 1 750.0,601.0 Z" fill="#fff" stroke="#454545" stroke-width="1.7"/>
<line x1="846" y1="588.5" x2="876.2" y2="588.5" stroke="#555" stroke-width="1.0" />
<line x1="876.2" y1="588.5" x2="917" y2="588.5" stroke="#3a3a3a" stroke-width="1.0" />
<line x1="810" y1="601.1" x2="876.2" y2="601.1" stroke="#3a3a3a" stroke-width="1.0" />
<line x1="810" y1="659.3" x2="876.2" y2="659.3" stroke="#3a3a3a" stroke-width="1.0" />
<line x1="846" y1="670.4" x2="876.2" y2="670.4" stroke="#3a3a3a" stroke-width="1.0" />
<line x1="896" y1="670.4" x2="917" y2="670.4" stroke="#3a3a3a" stroke-width="1.0" />
<line x1="876.2" y1="588.5" x2="876.2" y2="670.4" stroke="#3a3a3a" stroke-width="1.0" />
<line x1="917" y1="588.5" x2="917" y2="670.4" stroke="#3a3a3a" stroke-width="1.0" />
<line x1="732.6" y1="649.5" x2="732.6" y2="695.2" stroke="#3a3a3a" stroke-width="1.0" />
<line x1="823.5" y1="649.5" x2="823.5" y2="695.2" stroke="#3a3a3a" stroke-width="1.0" />
<line x1="732.6" y1="695.1" x2="823.5" y2="695.1" stroke="#3a3a3a" stroke-width="1.0" />
<text x="762.5" y="692.9" font-size="19.2" text-anchor="start" fill="#2b2b2b">490</text>
<text transform="translate(872.8,597.6) rotate(-90)" font-size="19.2" text-anchor="start" fill="#2b2b2b">70 min</text>
<text transform="translate(872.8,647.5) rotate(-90)" font-size="19.2" text-anchor="start" fill="#2b2b2b">320</text>
<text transform="translate(892.0,695.1) rotate(-90)" font-size="19.2" text-anchor="start" fill="#2b2b2b">60 min</text>
<text transform="translate(914.7,664.5) rotate(-90)" font-size="19.2" text-anchor="start" fill="#2b2b2b">460 min</text>
<circle cx="422.3" cy="501.3" r="1.0" fill="#444"/>
<circle cx="515.3" cy="501.3" r="1.0" fill="#444"/>
<circle cx="387.4" cy="381.4" r="1.0" fill="#444"/>
<circle cx="387.4" cy="403.3" r="1.0" fill="#444"/>
<circle cx="564.9" cy="381.4" r="1.0" fill="#444"/>
<circle cx="564.9" cy="392.1" r="1.0" fill="#444"/>
<circle cx="564.9" cy="403.3" r="1.0" fill="#444"/>
<circle cx="564.9" cy="464.3" r="1.0" fill="#444"/>
<circle cx="564.9" cy="475.5" r="1.0" fill="#444"/>
<circle cx="608.8" cy="381.4" r="1.0" fill="#444"/>
<circle cx="608.8" cy="475.5" r="1.0" fill="#444"/>
<circle cx="732.6" cy="500.4" r="1.0" fill="#444"/>
<circle cx="822.4" cy="500.4" r="1.0" fill="#444"/>
<circle cx="695.4" cy="381.2" r="1.0" fill="#444"/>
<circle cx="695.4" cy="403.9" r="1.0" fill="#444"/>
<circle cx="875.6" cy="381.2" r="1.0" fill="#444"/>
<circle cx="875.6" cy="391.9" r="1.0" fill="#444"/>
<circle cx="875.6" cy="403.7" r="1.0" fill="#444"/>
<circle cx="875.6" cy="462.1" r="1.0" fill="#444"/>
<circle cx="875.6" cy="472.9" r="1.0" fill="#444"/>
<circle cx="918.8" cy="381.2" r="1.0" fill="#444"/>
<circle cx="918.8" cy="472.9" r="1.0" fill="#444"/>
<circle cx="422.3" cy="697.2" r="1.0" fill="#444"/>
<circle cx="515.6" cy="697.2" r="1.0" fill="#444"/>
<circle cx="566.2" cy="588.3" r="1.0" fill="#444"/>
<circle cx="566.2" cy="599.0" r="1.0" fill="#444"/>
<circle cx="566.2" cy="659.8" r="1.0" fill="#444"/>
<circle cx="566.2" cy="671.5" r="1.0" fill="#444"/>
<circle cx="606" cy="588.3" r="1.0" fill="#444"/>
<circle cx="606" cy="671.5" r="1.0" fill="#444"/>
<circle cx="732.6" cy="695.1" r="1.0" fill="#444"/>
<circle cx="823.5" cy="695.1" r="1.0" fill="#444"/>
<circle cx="876.2" cy="588.5" r="1.0" fill="#444"/>
<circle cx="876.2" cy="601.1" r="1.0" fill="#444"/>
<circle cx="876.2" cy="659.3" r="1.0" fill="#444"/>
<circle cx="876.2" cy="670.4" r="1.0" fill="#444"/>
<circle cx="917" cy="588.5" r="1.0" fill="#444"/>
<circle cx="917" cy="670.4" r="1.0" fill="#444"/>
</svg>
</body></html>
